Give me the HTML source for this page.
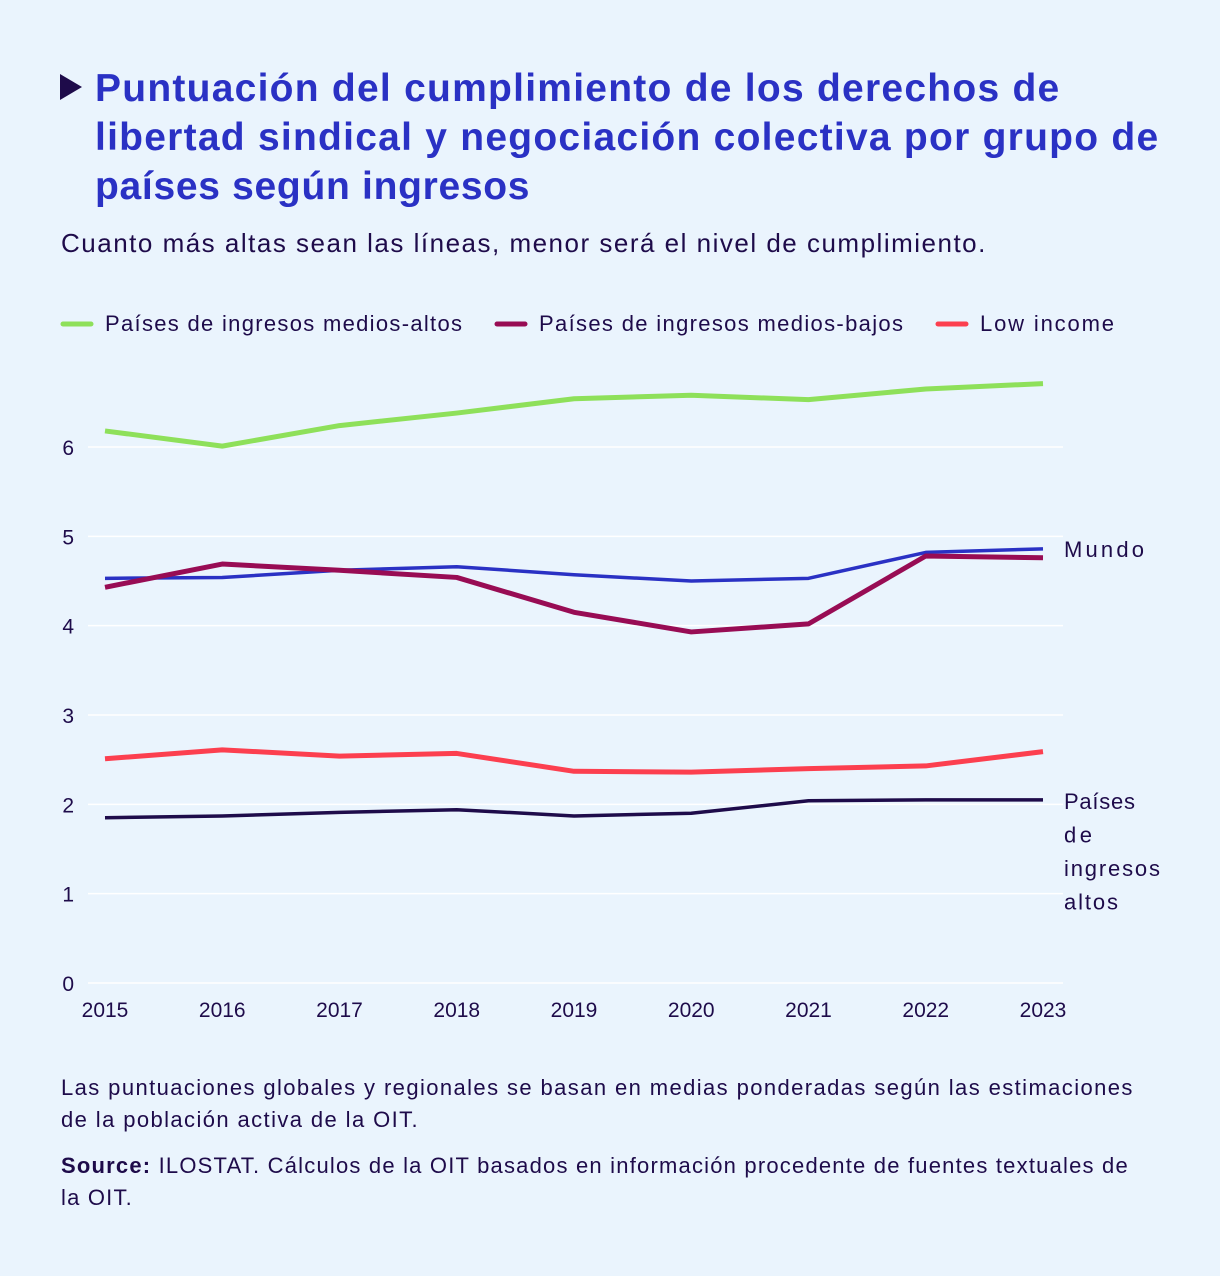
<!DOCTYPE html>
<html><head><meta charset="utf-8"><style>
body{margin:0;background:#eaf4fd;font-family:"Liberation Sans","DejaVu Sans",sans-serif;}
#wrap{position:relative;width:1220px;height:1276px;background:#eaf4fd;overflow:hidden}
.title{position:absolute;left:95px;top:64px;width:1120px;font-size:39px;line-height:49px;font-weight:bold;color:#2a31c4;white-space:nowrap}
.tri{position:absolute;left:60px;top:74px;width:0;height:0;border-top:13px solid transparent;border-bottom:13px solid transparent;border-left:22px solid #1e0b4a}
.sub{position:absolute;left:61px;top:228px;font-size:26px;letter-spacing:1.5px;color:#1e0b4a;white-space:nowrap}
.note{position:absolute;left:61px;width:1150px;font-size:22px;line-height:32px;color:#1e0b4a;white-space:nowrap;letter-spacing:1.4px}
</style></head><body>
<div id="wrap">
<div class="tri"></div>
<div class="title"><span style="letter-spacing:1.25px">Puntuación del cumplimiento de los derechos de</span><br><span style="letter-spacing:1.25px">libertad sindical y negociación colectiva por grupo de</span><br><span style="letter-spacing:0.7px">países según ingresos</span></div>
<div class="sub">Cuanto más altas sean las líneas, menor será el nivel de cumplimiento.</div>
<svg id="chart" width="1220" height="1060" style="position:absolute;left:0;top:0"></svg>
<div class="note" style="top:1072px">Las puntuaciones globales y regionales se basan en medias ponderadas según las estimaciones<br>de la población activa de la OIT.</div>
<div class="note" style="top:1150px;letter-spacing:1.2px"><b>Source:</b> ILOSTAT. Cálculos de la OIT basados en información procedente de fuentes textuales de<br>la OIT.</div>
</div>
<script>
const years=[2015,2016,2017,2018,2019,2020,2021,2022,2023];
const yTicks=[0,1,2,3,4,5,6];
const upperMiddle=[6.18,6.01,6.24,6.38,6.54,6.58,6.53,6.65,6.71];
const world=[4.53,4.54,4.62,4.66,4.57,4.50,4.53,4.82,4.86];
const lowerMiddle=[4.43,4.69,4.62,4.54,4.15,3.93,4.02,4.78,4.76];
const lowIncome=[2.51,2.61,2.54,2.57,2.37,2.36,2.40,2.43,2.59];
const highIncome=[1.85,1.87,1.91,1.94,1.87,1.90,2.04,2.05,2.05];
const NS="http://www.w3.org/2000/svg";
const svg=document.getElementById('chart');
const x=y=>105+(y-2015)*117.25;
const yS=v=>983-v*89.33;
function mk(t,a,txt){const e=document.createElementNS(NS,t);for(const k in a)e.setAttribute(k,a[k]);if(txt!==undefined)e.textContent=txt;svg.appendChild(e);return e;}
yTicks.forEach(t=>{
 const g=mk('line',{x1:88,x2:1063,y1:yS(t),y2:yS(t),stroke:'#ffffff','stroke-width':1.5});
 
 
 const l=mk('text',{x:74,y:yS(t)+8,'text-anchor':'end','font-size':21,fill:'#1e0b4a','font-family':'Liberation Sans, sans-serif'},String(t));
 
 
});
years.forEach(yr=>{
 const l=mk('text',{x:x(yr),y:1017,'text-anchor':'middle','font-size':21,fill:'#1e0b4a','font-family':'Liberation Sans, sans-serif'},String(yr));
 
 
});
const series=[[upperMiddle,'#8ee05a',5,'line-upper-middle'],[world,'#2a31c4',3.5,'line-world'],[lowerMiddle,'#980c54',5,'line-lower-middle'],[lowIncome,'#fc3f4f',5,'line-low-income'],[highIncome,'#1e0b4a',3.5,'line-high-income']];
series.forEach(([d,c,w,n])=>{
 const p=mk('polyline',{points:d.map((v,i)=>x(years[i])+','+yS(v)).join(' '),fill:'none',stroke:c,'stroke-width':w,'stroke-linejoin':'round'});
 
 
});
const lab1=mk('text',{x:1064,y:557,'font-size':22,fill:'#1e0b4a','font-family':'Liberation Sans, sans-serif',textLength:80},'Mundo');


[['Países',71],['de',28],['ingresos',96],['altos',54]].forEach(([s,w],i)=>{
 const t=mk('text',{x:1064,y:809+i*33.5,'font-size':22,fill:'#1e0b4a','font-family':'Liberation Sans, sans-serif',textLength:w},s);
 
 
});
const legend=[['Países de ingresos medios-altos','#8ee05a',63,357],['Países de ingresos medios-bajos','#980c54',497,364],['Low income','#fc3f4f',938,134]];
legend.forEach(([n,c,lx,w])=>{
 const l=mk('line',{x1:lx,x2:lx+28,y1:324,y2:324,stroke:c,'stroke-width':5,'stroke-linecap':'round'});
 
 
 const t=mk('text',{x:lx+42,y:331,'font-size':22,fill:'#1e0b4a','font-family':'Liberation Sans, sans-serif',textLength:w},n);
 
 
});
</script>
</body></html>
